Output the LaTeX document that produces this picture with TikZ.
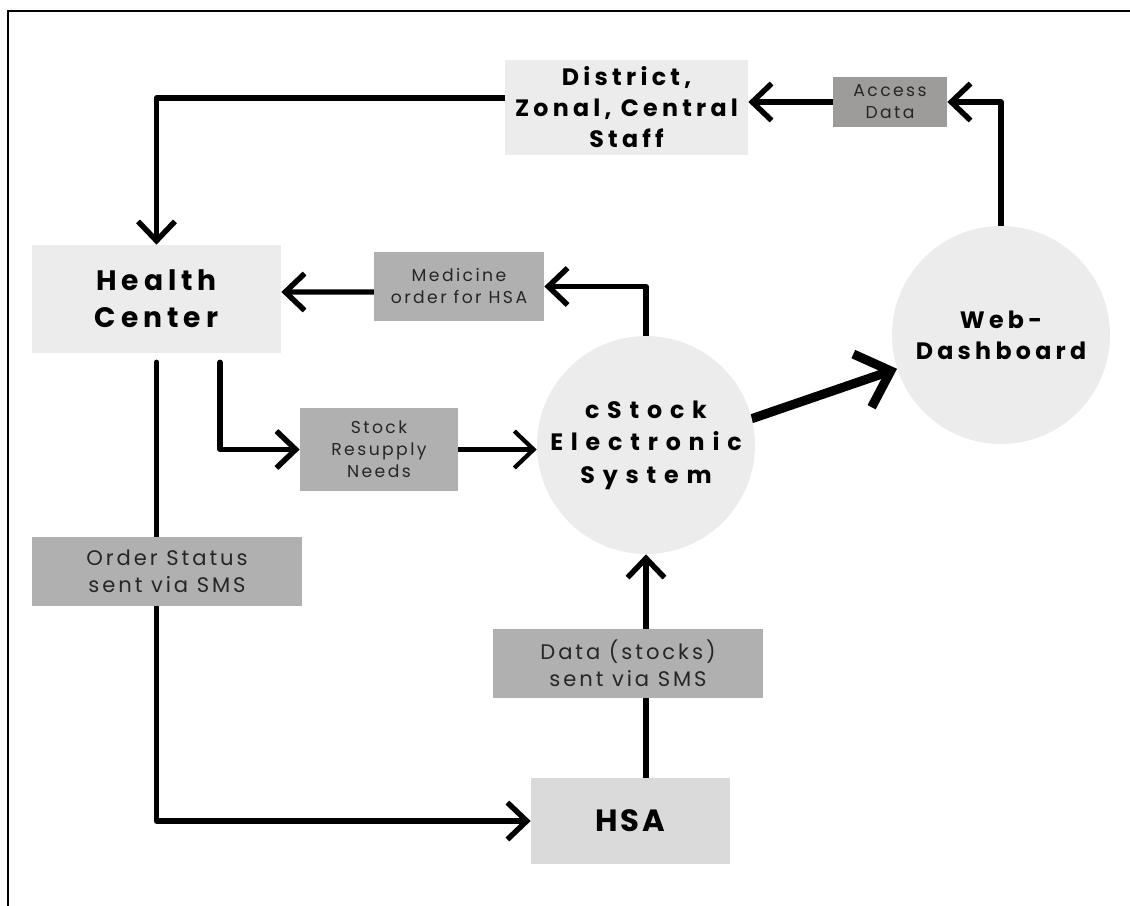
\documentclass[tikz,border=0pt]{standalone}
\usepackage{fontspec}
\setmainfont{Poppins}
\newfontfamily\headfont{Poppins}[LetterSpace=18]
\newfontfamily\widefont{Poppins}[LetterSpace=33]
\newfontfamily\tightfont{Poppins}[LetterSpace=9]
\newfontfamily\tagfont{Poppins}[LetterSpace=14]
\usetikzlibrary{arrows.meta,backgrounds}

\definecolor{boxfill}{HTML}{ECECEC}
\definecolor{hsafill}{HTML}{DADADA}
\definecolor{tagfill}{HTML}{B1B0B0}
\definecolor{accessfill}{HTML}{9E9B9B}

\begin{document}
\begin{tikzpicture}[x=0.02cm,y=-0.02cm,
	place/.style={fill=boxfill,inner sep=0pt,align=center,
		font=\headfont\bfseries\fontsize{13.5}{17.6}\selectfont},
	tag/.style={fill=tagfill,inner sep=0pt,align=center,text=black!85,
		font=\tagfont\fontsize{9.8}{12.5}\selectfont},
	bigtag/.style={tag,font=\tagfont\fontsize{12}{15.4}\selectfont},
	arr/.style={line width=3.1pt,line cap=round,line join=round,
		-{Straight Barb[length=11pt,width=21pt]}}]
	\useasboundingbox (0,0) rectangle (1130,906);
	\draw[line width=0.9pt] (8,906) -- (8,11) -- (1130,11);

	\node[place,minimum width=4.86cm,minimum height=1.9cm] (staff) at (626.5,107.5)
		{District,\\Zonal, Central\\Staff};
	\node[tag,fill=accessfill,minimum width=2.28cm,minimum height=1cm] (access) at (890,102)
		{Access\\Data};
	\node[place,minimum width=4.98cm,minimum height=2.16cm,
		font=\headfont\bfseries\fontsize{16}{21}\selectfont] (health) at (156.5,299)
		{Health\\Center};
	\node[tag,minimum width=3.4cm,minimum height=1.38cm] (medicine) at (459,286.5)
		{Medicine\\order for HSA};
	\node[tag,minimum width=3.16cm,minimum height=1.66cm] (resupply) at (379,449.5)
		{Stock\\Resupply\\Needs};
	\node[place,circle,minimum size=4.36cm,
		font=\widefont\bfseries\fontsize{13.5}{18.5}\selectfont] (cstock) at (646,445)
		{cStock\\Electronic\\System};
	\node[place,circle,minimum size=4.36cm] (web) at (1001,335)
		{Web-\\Dashboard};
	\node[bigtag,minimum width=5.4cm,minimum height=1.38cm] (status) at (167,571.5)
		{Order Status\\sent via SMS};
	\node[bigtag,minimum width=5.4cm,minimum height=1.38cm] (datasms) at (628,663.5)
		{Data (stocks)\\sent via SMS};
	\node[place,fill=hsafill,minimum width=3.98cm,minimum height=1.72cm,
		font=\tightfont\bfseries\fontsize{17.5}{22}\selectfont] (hsa) at (630.5,821)
		{HSA};

	\begin{scope}[on background layer]
		\draw[arr] ([yshift=0.19cm]staff.west) -| (health.north);
		\draw[arr] (web.north) |- (access.east);
		\draw[arr] (access.west) -- (staff.east |- access.west);
		\draw[arr] (cstock.north) |- (medicine.east);
		\draw[arr] ([yshift=-0.11cm]medicine.west) -- (health.east |- 0,292);
		\draw[arr] ([xshift=1.27cm,yshift=-0.18cm]health.south) |- (resupply.west);
		\draw[arr,line width=2.4pt] (resupply.east) -- (resupply.east -| cstock.west);
		\draw[arr] ([yshift=-0.18cm]health.south) |- (hsa.west);
		\draw[arr] (cstock.south |- hsa.north) -- (cstock.south);
		\draw[arr,line width=5.2pt,-{Straight Barb[length=17pt,width=32pt]}]
			(cstock.14) -- (web.198);
	\end{scope}
\end{tikzpicture}
\end{document}
